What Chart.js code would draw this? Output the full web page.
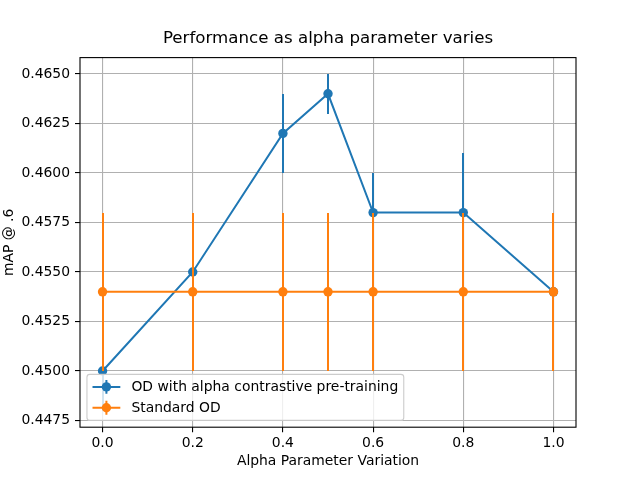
<!DOCTYPE html>
<html>
<head>
<meta charset="utf-8">
<script src="https://cdn.jsdelivr.net/npm/chart.js@4/dist/chart.umd.min.js"></script>
<style>
  body { margin: 0; background: #fff; }
  #wrap { width: 640px; height: 480px; }
</style>
</head>
<body>
<div id="wrap"><canvas id="alphaChart" width="640" height="480"></canvas></div>
<script>
// data
const alphaValues = [0.0, 0.2, 0.4, 0.5, 0.6, 0.8, 1.0];
const contrastiveMap = [0.450, 0.455, 0.462, 0.464, 0.458, 0.458, 0.454];
const contrastiveErr = [0.002, 0.002, 0.002, 0.001, 0.002, 0.003, 0.001];
const standardMap = [0.454, 0.454, 0.454, 0.454, 0.454, 0.454, 0.454];
const standardErr = [0.004, 0.004, 0.004, 0.004, 0.004, 0.004, 0.004];

const xTicks = [0.0, 0.2, 0.4, 0.6, 0.8, 1.0];
const yTicks = [0.4475, 0.4500, 0.4525, 0.4550, 0.4575, 0.4600, 0.4625, 0.4650];

const seriesLabels = ['OD with alpha contrastive pre-training', 'Standard OD'];
const seriesColors = ['#1f77b4', '#ff7f0e'];
const chartTitle = 'Performance as alpha parameter varies';

const FONT = 'DejaVu Sans';
const LW = 2;      // ~1.5pt
const MR = 4.7;    // marker radius

function toPoints(ys, errs) {
    return alphaValues.map((x, i) => ({ x: x, y: ys[i], err: errs[i] }));
}

// error bars, drawn just before each dataset's line
const errorBarPlugin = {
    id: 'errorBars',
    beforeDatasetDraw(chart, args) {
        const ctx = chart.ctx;
        const xs = chart.scales.x, ys = chart.scales.y;
        const ds = chart.data.datasets[args.index];
        ctx.save();
        ctx.strokeStyle = ds.borderColor;
        ctx.lineWidth = LW;
        ds.data.forEach(p => {
            const px = Math.round(xs.getPixelForValue(p.x));
            ctx.beginPath();
            ctx.moveTo(px, Math.round(ys.getPixelForValue(p.y - p.err)));
            ctx.lineTo(px, Math.round(ys.getPixelForValue(p.y + p.err)));
            ctx.stroke();
        });
        ctx.restore();
    }
};

// title, spines and legend
const framePlugin = {
    id: 'frame',
    afterDatasetsDraw(chart) {
        const ctx = chart.ctx, a = chart.chartArea;
        ctx.save();
        ctx.strokeStyle = '#000';
        ctx.lineWidth = 1.1;
        ctx.strokeRect(a.left, a.top, a.right - a.left, a.bottom - a.top);
        ctx.restore();
    },
    afterDraw(chart) {
        const ctx = chart.ctx, a = chart.chartArea;
        ctx.save();
        ctx.fillStyle = '#000';
        ctx.font = '16.67px "' + FONT + '"';
        ctx.textAlign = 'center';
        ctx.textBaseline = 'alphabetic';
        ctx.fillText(chartTitle, (a.left + a.right) / 2, a.top - 14.5);

        const fs = 13.9;
        ctx.font = fs + 'px "' + FONT + '"';
        const textW = Math.max(...seriesLabels.map(t => ctx.measureText(t).width));
        const pad = 0.4 * fs, handleLen = 2 * fs, gap = 0.8 * fs, spacing = 0.5 * fs;
        const left = a.left + 0.5 * fs;
        const h = 2 * pad + seriesLabels.length * fs + (seriesLabels.length - 1) * spacing;
        const bottom = a.bottom - 0.5 * fs;
        const top = bottom - h;
        const w = 2 * pad + handleLen + gap + textW;

        ctx.beginPath();
        ctx.roundRect(left, top, w, h, 2.8);
        ctx.fillStyle = 'rgba(255,255,255,0.8)';
        ctx.fill();
        ctx.strokeStyle = '#cccccc';
        ctx.lineWidth = 1.1;
        ctx.stroke();

        seriesLabels.forEach((label, i) => {
            const cy = top + pad + fs / 2 + i * (fs + spacing);
            const hx = left + pad;
            const cx = hx + handleLen / 2;
            ctx.strokeStyle = seriesColors[i];
            ctx.fillStyle = seriesColors[i];
            ctx.lineWidth = LW;
            ctx.beginPath();
            ctx.moveTo(hx, cy);
            ctx.lineTo(hx + handleLen, cy);
            ctx.moveTo(cx, cy - 0.5 * fs);
            ctx.lineTo(cx, cy + 0.5 * fs);
            ctx.stroke();
            ctx.beginPath();
            ctx.arc(cx, cy, MR, 0, Math.PI * 2);
            ctx.fill();
            ctx.fillStyle = '#000';
            ctx.textBaseline = 'middle';
            ctx.textAlign = 'left';
            ctx.fillText(label, hx + handleLen + gap, cy + 0.5);
        });
        ctx.restore();
    }
};

function makeDataset(i, ys, errs) {
    return {
        label: seriesLabels[i],
        data: toPoints(ys, errs),
        borderColor: seriesColors[i],
        backgroundColor: seriesColors[i],
        borderWidth: LW,
        pointRadius: MR,
        pointHoverRadius: MR,
        pointBorderWidth: 0,
        tension: 0,
        fill: false,
        order: 2 - i   // standard OD on top
    };
}

const ctx = document.getElementById('alphaChart').getContext('2d');
new Chart(ctx, {
    type: 'line',
    data: {
        datasets: [
            makeDataset(0, contrastiveMap, contrastiveErr),
            makeDataset(1, standardMap, standardErr)
        ]
    },
    options: {
        responsive: false,
        animation: false,
        devicePixelRatio: 1,
        layout: { padding: { left: 0, right: 64, top: 57.6, bottom: 0 } },
        plugins: {
            legend: { display: false },
            tooltip: { enabled: false },
            title: { display: false }
        },
        scales: {
            x: {
                type: 'linear',
                min: -0.05,
                max: 1.05,
                afterBuildTicks: s => { s.ticks = xTicks.map(v => ({ value: v })); },
                afterFit: s => { s.height = 52.8; },
                ticks: {
                    color: '#000',
                    padding: 3,
                    font: { family: FONT, size: 13.9 },
                    callback: v => v.toFixed(1)
                },
                grid: { color: '#b0b0b0', lineWidth: 1.1, tickColor: '#000', tickLength: 5, tickWidth: 1.1 },
                border: { display: false },
                title: {
                    display: true,
                    text: 'Alpha Parameter Variation',
                    color: '#000',
                    font: { family: FONT, size: 13.9 },
                    padding: { top: 0, bottom: 10 }
                }
            },
            y: {
                type: 'linear',
                min: 0.447162,
                max: 0.465828,
                afterBuildTicks: s => { s.ticks = yTicks.map(v => ({ value: v })); },
                afterFit: s => { s.width = 80; },
                ticks: {
                    color: '#000',
                    padding: 5,
                    font: { family: FONT, size: 13.9 },
                    callback: v => v.toFixed(4)
                },
                grid: { color: '#b0b0b0', lineWidth: 1.1, tickColor: '#000', tickLength: 5, tickWidth: 1.1 },
                border: { display: false },
                title: {
                    display: true,
                    text: 'mAP @ .6',
                    color: '#000',
                    font: { family: FONT, size: 13.9 },
                    padding: { top: 1, bottom: 0 }
                }
            }
        }
    },
    plugins: [errorBarPlugin, framePlugin]
});
</script>
</body>
</html>
